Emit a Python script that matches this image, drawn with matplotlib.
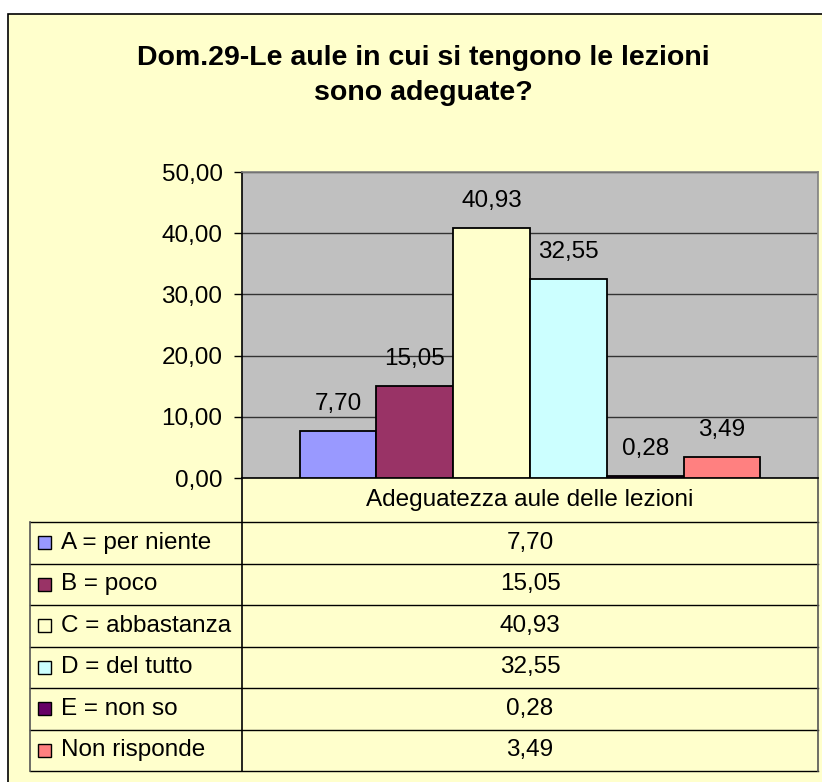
import numpy as np
import matplotlib.pyplot as plt
from matplotlib.patches import Rectangle

# chart data
categories = ['A = per niente', 'B = poco', 'C = abbastanza', 'D = del tutto',
              'E = non so', 'Non risponde']
values = [7.70, 15.05, 40.93, 32.55, 0.28, 3.49]
colors = ['#9999FF', '#993366', '#FFFFCC', '#CCFFFF', '#660066', '#FF8080']
group_label = 'Adeguatezza aule delle lezioni'
title_lines = ['Dom.29-Le aule in cui si tengono le lezioni', 'sono adeguate?']
yticks = [0, 10, 20, 30, 40, 50]


def fmt(v):
    return f'{v:.2f}'.replace('.', ',')


plt.rcParams['font.family'] = ['Liberation Sans', 'DejaVu Sans']
fs = 17.5

W, H = 822, 782
fig = plt.figure(figsize=(W / 100, H / 100), dpi=100)
fig.patch.set_facecolor('white')

# pixel-space overlay: frame, title and data table
ov = fig.add_axes([0, 0, 1, 1], zorder=0)
ov.set_xlim(0, W)
ov.set_ylim(H, 0)
ov.axis('off')
ov.add_patch(Rectangle((8, 14), W, H, facecolor='#FFFFCC', edgecolor='black', lw=1.2))

for k, line in enumerate(title_lines):
    ov.text(423, 65 + 35 * k, line, ha='center', va='baseline',
            fontsize=20.5, fontweight='bold')

# plot area
left, right, top, bottom = 242, 818, 172, 478
ax = fig.add_axes([left / W, 1 - bottom / H, (right - left) / W, (bottom - top) / H], zorder=1)
ax.set_facecolor('#C0C0C0')

n = len(values)
bw = 0.8 / n
x = 0.1 + bw * (np.arange(n) + 0.5)
ax.bar(x, values, width=bw, color=colors, edgecolor='black', lw=1.3, zorder=3)
for xi, v in zip(x, values):
    ax.annotate(fmt(v), (xi, v), xytext=(0, 15), textcoords='offset points',
                ha='center', va='baseline', fontsize=fs)

ax.set_xlim(0, 1)
ax.set_ylim(0, 50)
ax.set_xticks([])
ax.set_yticks(yticks)
ax.set_yticklabels([fmt(t) for t in yticks])
ax.tick_params(axis='y', length=6, width=1, labelsize=fs, pad=8)
ax.yaxis.grid(True, color='#333333', lw=1)
ax.set_axisbelow(True)
for s in ['left', 'bottom']:
    ax.spines[s].set_color('black')
    ax.spines[s].set_linewidth(1.2)
for s in ['top', 'right']:
    ax.spines[s].set_color('#808080')
    ax.spines[s].set_linewidth(1.2)

# data table below the plot
tab_left, row_top, tab_bottom = 30, 522, 771
row_h = (tab_bottom - row_top) / n
mid = (left + right) / 2
ov.text(mid, (bottom + row_top) / 2, group_label, ha='center', va='center', fontsize=fs)
for k in range(n + 1):
    y = row_top + k * row_h
    ov.plot([tab_left, right], [y, y], color='black', lw=1)
ov.plot([tab_left, tab_left], [row_top, tab_bottom], color='#555555', lw=1.2)
ov.plot([left, left], [bottom, tab_bottom], color='black', lw=1.2)
ov.plot([right, right], [bottom, tab_bottom], color='#555555', lw=1.2)

for i, (cat, v, c) in enumerate(zip(categories, values, colors)):
    yc = row_top + (i + 0.5) * row_h
    ov.add_patch(Rectangle((38, yc - 6.5), 13, 13, facecolor=c, edgecolor='black', lw=1))
    ov.text(61, yc, cat, ha='left', va='center', fontsize=fs)
    ov.text(mid, yc, fmt(v), ha='center', va='center', fontsize=fs)

fig.savefig('out.png', dpi=100)
